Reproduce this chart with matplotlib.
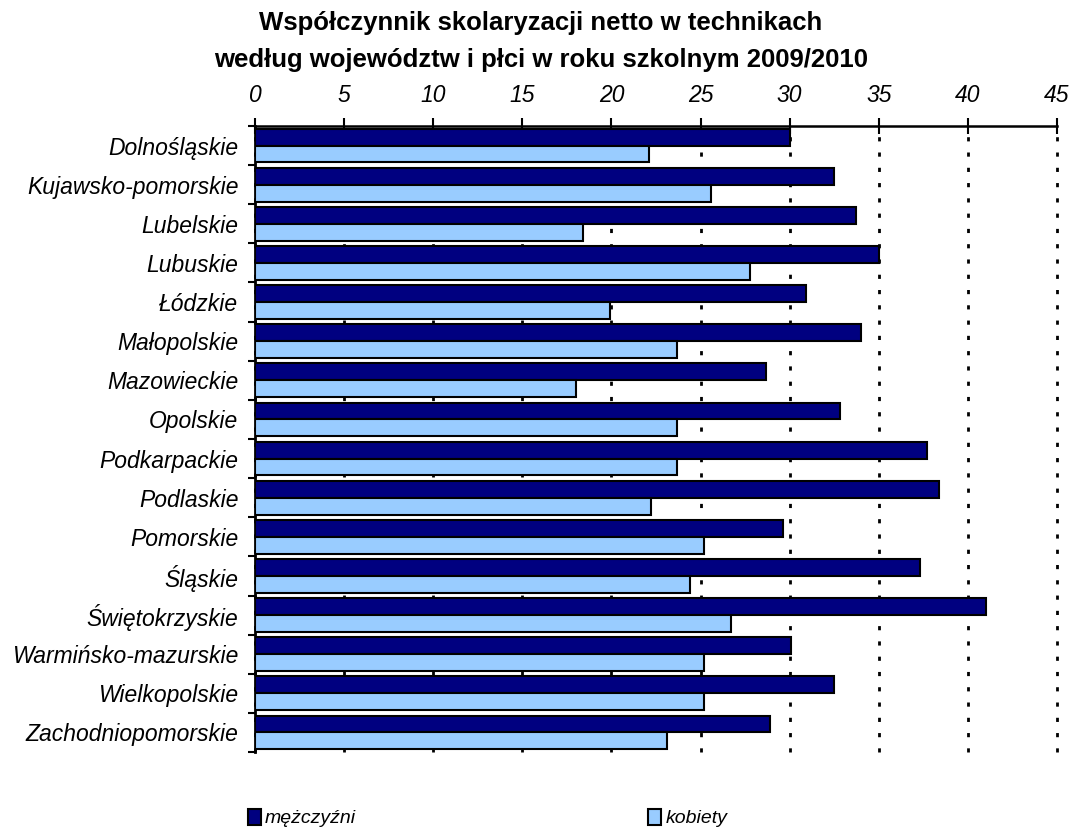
import numpy as np
import matplotlib.pyplot as plt

# dane
wojewodztwa = ["Dolnośląskie", "Kujawsko-pomorskie", "Lubelskie", "Lubuskie",
               "Łódzkie", "Małopolskie", "Mazowieckie", "Opolskie",
               "Podkarpackie", "Podlaskie", "Pomorskie", "Śląskie",
               "Świętokrzyskie", "Warmińsko-mazurskie", "Wielkopolskie",
               "Zachodniopomorskie"]
mezczyzni = [30.0, 32.5, 33.7, 35.0, 30.9, 34.0, 28.7, 32.8,
             37.7, 38.4, 29.6, 37.3, 41.0, 30.1, 32.5, 28.9]
kobiety = [22.1, 25.6, 18.4, 27.8, 19.9, 23.7, 18.0, 23.7,
           23.7, 22.2, 25.2, 24.4, 26.7, 25.2, 25.2, 23.1]
x_ticks = list(range(0, 50, 5))

plt.rcParams['font.family'] = ['Liberation Sans', 'DejaVu Sans']

fig = plt.figure(figsize=(10.69, 8.38), dpi=100)
ax = fig.add_axes([255/1069, 1-752/838, 802/1069, 626/838])

y = np.arange(len(wojewodztwa))
h = 0.43
ax.barh(y - h/2, mezczyzni, height=h, color='#000080', edgecolor='black',
        linewidth=1.5, label='mężczyźni', zorder=3)
ax.barh(y + h/2, kobiety, height=h, color='#99CCFF', edgecolor='black',
        linewidth=1.5, label='kobiety', zorder=3)

ax.set_xlim(0, 45)
ax.set_ylim(len(wojewodztwa) - 0.5, -0.5)

# os X na gorze
ax.xaxis.tick_top()
ax.set_xticks(x_ticks)
ax.set_xticklabels([str(v) for v in x_ticks], fontsize=16.5, style='italic')
ax.tick_params(axis='x', direction='inout', length=12, width=1.5, pad=8)
ax.grid(axis='x', color='black', linewidth=2, linestyle=(0, (1.5, 4)), zorder=0)
for gl in ax.get_xgridlines():
    gl.set_clip_on(False)
ax.set_axisbelow(True)

# os Y
ax.set_yticks(y)
ax.set_yticklabels(wojewodztwa, fontsize=16.5, style='italic')
ax.set_yticks(np.arange(len(wojewodztwa) + 1) - 0.5, minor=True)
ax.tick_params(axis='y', which='major', length=0, pad=12)
ax.tick_params(axis='y', which='minor', length=5, width=1.5, direction='out')

for s in ['right', 'bottom']:
    ax.spines[s].set_visible(False)
ax.spines['top'].set_linewidth(1.8)
ax.spines['left'].set_linewidth(2)

fig.text(0.506, 1-23/838, "Współczynnik skolaryzacji netto w technikach",
         ha='center', va='center', fontsize=18.5, fontweight='bold')
fig.text(0.506, 1-60/838, "według województw i płci w roku szkolnym 2009/2010",
         ha='center', va='center', fontsize=18.5, fontweight='bold')

# legenda na dole
leg = fig.legend(loc='center left', bbox_to_anchor=(230/1069, 1-818/838), ncol=2,
                 frameon=False, prop={'size': 14, 'style': 'italic'},
                 handlelength=0.7, handleheight=0.9, handletextpad=0.2,
                 columnspacing=15.0)

fig.savefig('out.png', dpi=100)
